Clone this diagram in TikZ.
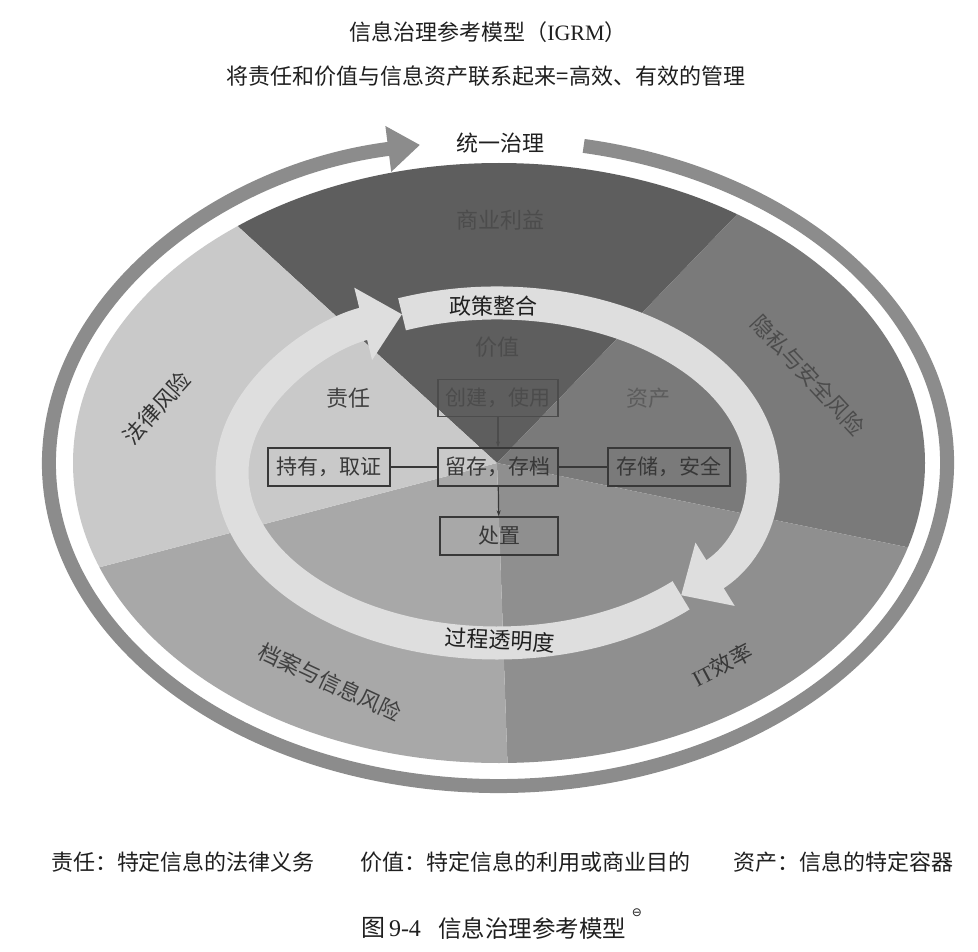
\documentclass[tikz,border=0pt]{standalone}
\usepackage{fontspec}
\newfontfamily\cjk{Noto Sans CJK SC}
\newfontfamily\lat{Liberation Serif}
\newfontfamily\dejavu{DejaVu Sans}
\usetikzlibrary{arrows.meta}
\definecolor{cBiz}{gray}{0.37}
\definecolor{cPriv}{gray}{0.48}
\definecolor{cIT}{gray}{0.56}
\definecolor{cRec}{gray}{0.66}
\definecolor{cLaw}{gray}{0.79}
\definecolor{cRing}{gray}{0.87}
\definecolor{cOuter}{gray}{0.55}
\definecolor{ink}{gray}{0.12}
\begin{document}
\begin{tikzpicture}[x=1pt,y=-1pt,
  txt/.style={font=\cjk\fontsize{22}{26}\selectfont, inner sep=0pt, text=ink},
  sector/.style={txt, text=#1},
  box/.style={draw=#1, text=#1, line width=1.3pt, minimum width=120pt, minimum height=38pt, inner sep=0pt, font=\cjk\fontsize{21}{25}\selectfont},
  box/.default={black!78},
  conn/.style={draw=black!78, line width=1.2pt},
  ringarrow/.style={cRing, line width=33pt, -{Triangle[width=72pt,length=40pt]}}
]
\useasboundingbox (0,0) rectangle (978,952);
\fill[white] (0,0) rectangle (978,952);

% titles
\node[txt] (t1) at (488,32) {信息治理参考模型（{\lat IGRM}）};
\node[txt] (t2) at (486,76) {将责任和价值与信息资产联系起来={}高效、有效的管理};

% pie sectors
\begin{scope}
  \clip (499,463) ellipse [x radius=426, y radius=300];
  \begin{scope}[shift={(497,463)}]
    \fill[cBiz]  (0,0) -- (-137.6:1200) -- (-90:1200) -- (-46:1200) -- cycle;
    \fill[cPriv] (0,0) -- (-46:1200) -- (-17:1200) -- (11.6:1200) -- cycle;
    \fill[cIT]   (0,0) -- (11.6:1200) -- (50:1200) -- (88:1200) -- cycle;
    \fill[cRec]  (0,0) -- (88:1200) -- (127:1200) -- (165.3:1200) -- cycle;
    \fill[cLaw]  (0,0) -- (165.3:1200) -- (194:1200) -- (222.4:1200) -- cycle;
  \end{scope}
\end{scope}

% outer ring arrow
\draw[cOuter, line width=14pt, -{Triangle[width=44pt,length=32pt]}]
  (498,463) ++(-79:449 and 323) arc[start angle=-79, end angle=260, x radius=449, y radius=323];

% inner ring arrows
\draw[ringarrow] (497,473) ++(-111:265 and 170) arc[start angle=-111, end angle=46, x radius=265, y radius=170];
\draw[ringarrow] (497,473) ++(46:265 and 170) arc[start angle=46, end angle=249, x radius=265, y radius=170];

% sector labels
\node[sector=black!70] (biz) at (500,220) {商业利益};
\node[sector=black!70, rotate=-47] (priv) at (808,375) {隐私与安全风险};
\node[sector=black!78, rotate=28] (it) at (722,665) {{\lat IT}效率};
\node[sector=black!75, rotate=-25] (rec) at (330,682) {档案与信息风险};
\node[sector=black!80, rotate=48] (law) at (157,408) {法律风险};

% ring labels
\node[txt] (top) at (500,143) {统一治理};
\node[txt] (pol) at (493,306) {政策整合};
\node[txt, rotate=-3] (proc) at (500,640) {过程透明度};

% inner labels
\node[sector=black!75] (resp) at (348,398) {责任};
\node[sector=black!70] (val) at (497,347) {价值};
\node[sector=black!64] (asset) at (648,398) {资产};

% boxes
\node[box=black!70, minimum height=37pt] (create) at (498,398) {创建，使用};
\node[box, minimum width=122pt] (keep) at (329,467) {持有，取证};
\node[box] (retain) at (498,467) {留存，存档};
\node[box, minimum width=122pt] (store) at (669,467) {存储，安全};
\node[box, minimum width=118pt] (dispose) at (499,536) {处置};

\draw[conn] (keep) -- (retain);
\draw[conn] (retain) -- (store);
\draw[conn, -{Stealth[length=6pt,width=4pt]}] (retain) -- (dispose);
\draw[conn, draw=black!70, -{Stealth[length=6pt,width=4pt]}] (create) -- (retain);

% legend
\node[txt] (l1) at (183,862) {责任：特定信息的法律义务};
\node[txt] (l2) at (525,862) {价值：特定信息的利用或商业目的};
\node[txt] (l3) at (843,862) {资产：信息的特定容器};

% caption
\node[txt, font=\cjk\fontsize{24}{28}\selectfont] (c1) at (391,928) {图\,{\lat 9-4}};
\node[txt, font=\cjk\fontsize{23.5}{28}\selectfont] (c2) at (532,928) {信息治理参考模型};
\node[txt, font=\dejavu\fontsize{12}{14}\selectfont] (c3) at (637,913) {⊖};
\end{tikzpicture}
\end{document}
